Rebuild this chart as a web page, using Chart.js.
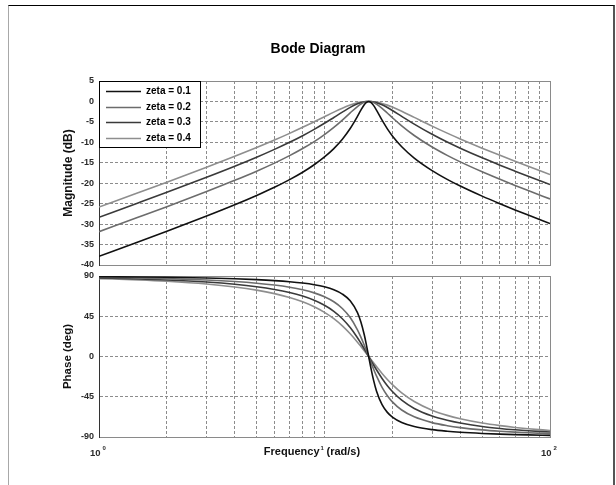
<!DOCTYPE html>
<html>
<head>
<meta charset="utf-8">
<script src="https://cdn.jsdelivr.net/npm/chart.js@4.4.1/dist/chart.umd.min.js"></script>
<style>
html, body { margin: 0; padding: 0; background: #fff; overflow: hidden; }
#wrap { position: relative; width: 616px; height: 485px; overflow: hidden; }
#frame { position: absolute; left: 8px; top: 5px; width: 607px; height: 520px; box-sizing: border-box;
         border-top: 1px solid #000; border-left: 1px solid #a8a8a8; border-right: 2px solid #555; }
canvas { position: absolute; left: 0; top: 0; }
</style>
</head>
<body>
<div id="wrap">
  <div id="frame"></div>
  <canvas id="magChart" width="616" height="485"></canvas>
  <canvas id="phaseChart" width="616" height="485"></canvas>
</div>
<script>
// ---------------- data ----------------
const freqs = [1, 1.5, 2, 3, 4, 5, 6, 7, 8, 9, 10, 11, 12, 13, 14, 14.5, 15, 15.3, 15.7, 16.1, 16.5, 17, 18, 19, 20, 22, 25, 30, 35, 40, 50, 60, 70, 80, 100];

const seriesLabels = ['zeta = 0.1', 'zeta = 0.2', 'zeta = 0.3', 'zeta = 0.4'];

const magZeta01 = [-37.86, -34.30, -31.74, -28.04, -25.29, -23.01, -21.00, -19.12, -17.31, -15.48, -13.57, -11.53, -9.24, -6.63, -3.66, -2.13, -0.82, -0.28, 0, -0.27, -0.96, -2.13, -4.59, -6.71, -8.43, -11.08, -13.85, -16.91, -19.05, -20.69, -23.16, -25.02, -26.53, -27.79, -29.85];
const magZeta02 = [-31.84, -28.28, -25.73, -22.04, -19.30, -17.06, -15.08, -13.26, -11.52, -9.81, -8.09, -6.34, -4.55, -2.79, -1.24, -0.64, -0.22, -0.07, 0, -0.07, -0.26, -0.64, -1.67, -2.83, -3.97, -5.97, -8.33, -11.15, -13.19, -14.78, -17.20, -19.04, -20.53, -21.79, -23.84];
const magZeta03 = [-28.33, -24.77, -22.22, -18.55, -15.85, -13.64, -11.72, -9.99, -8.37, -6.82, -5.34, -3.92, -2.61, -1.46, -0.59, -0.30, -0.10, -0.03, 0, -0.03, -0.12, -0.30, -0.82, -1.49, -2.21, -3.64, -5.54, -8.03, -9.92, -11.43, -13.78, -15.59, -17.06, -18.31, -20.34];
const magZeta04 = [-25.83, -22.28, -19.74, -16.10, -13.43, -11.29, -9.44, -7.81, -6.33, -4.97, -3.73, -2.61, -1.65, -0.88, -0.34, -0.17, -0.06, -0.02, 0, -0.02, -0.07, -0.17, -0.48, -0.90, -1.38, -2.40, -3.90, -6.03, -7.75, -9.17, -11.42, -13.18, -14.63, -15.86, -17.87];

const phaseZeta01 = [89.27, 88.90, 88.52, 87.73, 86.88, 85.95, 84.88, 83.65, 82.16, 80.31, 77.90, 74.61, 69.81, 62.23, 48.96, 38.53, 24.54, 14.48, 0, -14.11, -26.43, -38.53, -53.89, -62.47, -67.75, -73.78, -78.28, -81.80, -83.59, -84.70, -86.01, -86.78, -87.30, -87.66, -88.16];
const phaseZeta02 = [88.53, 87.79, 87.04, 85.47, 83.78, 81.93, 79.85, 77.45, 74.61, 71.14, 66.80, 61.17, 53.67, 43.52, 29.88, 21.71, 12.86, 7.36, 0, -7.16, -13.95, -21.71, -34.43, -43.81, -50.70, -59.81, -67.47, -73.92, -77.34, -79.49, -82.07, -83.59, -84.60, -85.33, -86.32];
const phaseZeta03 = [87.80, 86.69, 85.56, 83.21, 80.72, 78.00, 74.96, 71.54, 67.56, 62.88, 57.26, 50.46, 42.20, 32.33, 20.96, 14.86, 8.65, 4.92, 0, -4.79, -9.41, -14.86, -24.56, -32.61, -39.17, -48.89, -58.11, -66.61, -71.38, -74.44, -78.20, -80.43, -81.93, -83.02, -84.48];
const phaseZeta04 = [87.07, 85.59, 84.09, 80.99, 77.70, 74.17, 70.30, 66.00, 61.16, 55.66, 49.39, 42.26, 34.22, 25.40, 16.03, 11.25, 6.51, 3.70, 0, -3.60, -7.09, -11.25, -18.92, -25.63, -31.43, -40.68, -50.32, -60.03, -65.81, -69.63, -74.43, -77.33, -79.30, -80.73, -82.66];

// grid / tick values
const xGridValues = [1, 2, 3, 4, 5, 6, 7, 8, 9, 10, 20, 30, 40, 50, 60, 70, 80, 90, 100];
const xTickValues = [1, 10, 100];
const xTickBase = ['10', '', '10'];
const xTickExps = ['0', '1', '2'];
const magRange = [-40, 5];
const magStep = 5;
const phaseRange = [-90, 90];
const phaseStep = 45;

// ---------------- styles ----------------
const FONT = '"Liberation Sans", Arial, Helvetica, sans-serif';
const seriesColors = ['#111111', '#6c6c6c', '#3a3a3a', '#8e8e8e'];
const gridColor = '#8c8c8c';
Chart.defaults.font.family = FONT;

function makeDatasets(lists) {
  return seriesLabels.map((lab, i) => ({
    label: lab,
    data: freqs.map((f, j) => ({ x: f, y: lists[i][j] })),
    borderColor: seriesColors[i],
    backgroundColor: seriesColors[i],
    borderWidth: 1.6,
    pointRadius: 0,
    fill: false,
    cubicInterpolationMode: 'monotone'
  }));
}

function xAxis() {
  return {
    type: 'logarithmic', min: 1, max: 100,
    afterBuildTicks: s => { s.ticks = xGridValues.map(v => ({ value: v })); },
    afterFit: s => { s.height = 0; },
    ticks: { display: false, autoSkip: false, callback: () => '' },
    grid: { color: gridColor, lineWidth: 1, drawTicks: false },
    border: { display: true, color: '#888', dash: [3, 2] }
  };
}

function yAxis(range, step, title, titleSize) {
  return {
    type: 'linear', min: range[0], max: range[1],
    afterFit: s => { s.width = 42; },
    ticks: { stepSize: step, padding: 5, color: '#2a2a2a', font: { size: 9, weight: 'bold' } },
    grid: { color: gridColor, lineWidth: 1, drawTicks: false },
    border: { display: true, color: '#333', dash: [3, 2] },
    title: { display: true, text: title, color: '#111', font: { size: titleSize, weight: 'bold' }, padding: { top: 4, bottom: 4 } }
  };
}

const framePlugin = {
  id: 'frame',
  beforeDatasetsDraw(chart) {
    const { ctx, chartArea: a } = chart;
    ctx.save();
    ctx.setLineDash([]);
    ctx.lineWidth = 1;
    ctx.strokeStyle = '#8a8a8a';
    ctx.beginPath();
    ctx.moveTo(a.left, a.top + 0.5); ctx.lineTo(a.right + 1, a.top + 0.5);
    ctx.moveTo(a.right + 0.5, a.top); ctx.lineTo(a.right + 0.5, a.bottom + 1);
    ctx.moveTo(a.left, a.bottom + 0.5); ctx.lineTo(a.right + 1, a.bottom + 0.5);
    ctx.stroke();
    ctx.strokeStyle = '#333';
    ctx.beginPath();
    ctx.moveTo(a.left + 0.5, a.top); ctx.lineTo(a.left + 0.5, a.bottom + 1);
    ctx.stroke();
    ctx.restore();
  }
};

const magDecor = {
  id: 'magDecor',
  afterDraw(chart) {
    const { ctx, chartArea: a } = chart;
    ctx.save();
    // title
    ctx.fillStyle = '#000';
    ctx.font = 'bold 14px ' + FONT;
    ctx.textAlign = 'center';
    ctx.textBaseline = 'middle';
    ctx.fillText('Bode Diagram', 318, 49);
    // legend
    const x0 = a.left, y0 = a.top, w = 101, h = 66;
    ctx.fillStyle = '#fff';
    ctx.fillRect(x0, y0, w, h);
    ctx.strokeStyle = '#000';
    ctx.lineWidth = 1;
    ctx.setLineDash([]);
    ctx.strokeRect(x0 + 0.5, y0 + 0.5, w, h);
    ctx.font = 'bold 10px ' + FONT;
    ctx.textAlign = 'left';
    ctx.textBaseline = 'middle';
    chart.data.datasets.forEach((ds, i) => {
      const y = Math.round(y0 + 10 + i * 15.7) + 0.5;
      ctx.strokeStyle = ds.borderColor;
      ctx.lineWidth = 1.5;
      ctx.beginPath();
      ctx.moveTo(x0 + 7, y); ctx.lineTo(x0 + 42, y);
      ctx.stroke();
      ctx.fillStyle = '#000';
      ctx.fillText(ds.label, x0 + 47, y);
    });
    ctx.restore();
  }
};

const phaseDecor = {
  id: 'phaseDecor',
  afterDraw(chart) {
    const { ctx } = chart;
    const xs = chart.scales.x;
    ctx.save();
    ctx.fillStyle = '#2a2a2a';
    ctx.textBaseline = 'middle';
    xTickValues.forEach((v, i) => {
      const px = xs.getPixelForValue(v);
      if (xTickBase[i]) {
        ctx.font = 'bold 9.5px ' + FONT;
        ctx.textAlign = 'right';
        ctx.fillText(xTickBase[i], px + 1.5, 453);
        ctx.font = 'bold 6px ' + FONT;
        ctx.textAlign = 'left';
        ctx.fillText(xTickExps[i], px + 3.5, 448);
      } else {
        ctx.font = 'bold 6px ' + FONT;
        ctx.textAlign = 'left';
        ctx.fillText(xTickExps[i], px - 4, 448);
      }
    });
    // x axis title
    const mid = xs.getPixelForValue(10);
    ctx.fillStyle = '#111';
    ctx.font = 'bold 11px ' + FONT;
    ctx.textAlign = 'right';
    ctx.fillText('Frequency', mid - 5, 452);
    ctx.textAlign = 'left';
    ctx.fillText('(rad/s)', mid + 2, 452);
    ctx.restore();
  }
};

new Chart(document.getElementById('magChart'), {
  type: 'line',
  data: { datasets: makeDatasets([magZeta01, magZeta02, magZeta03, magZeta04]) },
  options: {
    responsive: false, animation: false, devicePixelRatio: 1,
    layout: { padding: { left: 57, right: 66, top: 81, bottom: 220 } },
    plugins: { legend: { display: false }, tooltip: { enabled: false }, title: { display: false } },
    scales: { x: xAxis(), y: yAxis(magRange, magStep, 'Magnitude (dB)', 12) }
  },
  plugins: [framePlugin, magDecor]
});

new Chart(document.getElementById('phaseChart'), {
  type: 'line',
  data: { datasets: makeDatasets([phaseZeta01, phaseZeta02, phaseZeta03, phaseZeta04]) },
  options: {
    responsive: false, animation: false, devicePixelRatio: 1,
    layout: { padding: { left: 57, right: 66, top: 276, bottom: 48 } },
    plugins: { legend: { display: false }, tooltip: { enabled: false }, title: { display: false } },
    scales: { x: xAxis(), y: yAxis(phaseRange, phaseStep, 'Phase (deg)', 11.5) }
  },
  plugins: [framePlugin, phaseDecor]
});
</script>
</body>
</html>
